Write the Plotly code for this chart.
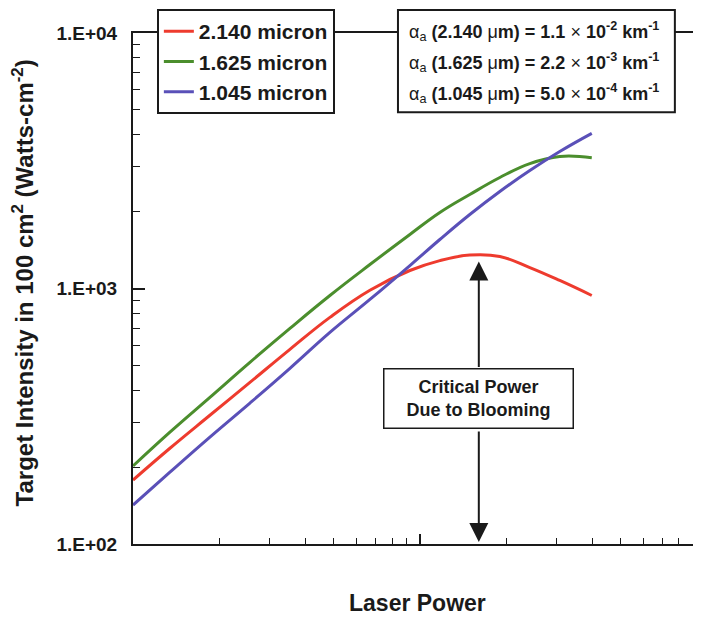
import math
import plotly.graph_objects as go

# ---- data ----
laser_power = [1.00, 1.345, 1.854, 2.556, 3.524, 4.857, 6.697, 9.230, 11.74, 14.93, 19.00, 24.17, 30.74, 39.74]
intensity_2140 = [178, 237, 319, 429, 578, 771, 985, 1176, 1286, 1351, 1334, 1208, 1075, 939]
intensity_1625 = [202, 274, 375, 514, 698, 939, 1241, 1627, 1984, 2333, 2719, 3083, 3286, 3250]
intensity_1045 = [142, 191, 262, 356, 487, 673, 906, 1230, 1555, 1948, 2397, 2896, 3436, 4046]
series_names = ["2.140 micron", "1.625 micron", "1.045 micron"]
series_colors = ["#EE3B2E", "#4B8E2D", "#5A50B8"]
critical_power = 16.05
critical_tip_intensity = 1275
y_major_ticks = [100, 1000, 10000]
y_major_labels = ["1.E+02", "1.E+03", "1.E+04"]
alpha_lines = [
    "α<sub>a</sub><b> (2.140 </b>μ<b>m) = 1.1 </b>×<b> 10<sup>-2</sup> km<sup>-1</sup></b>",
    "α<sub>a</sub><b> (1.625 </b>μ<b>m) = 2.2 </b>×<b> 10<sup>-3</sup> km<sup>-1</sup></b>",
    "α<sub>a</sub><b> (1.045 </b>μ<b>m) = 5.0 </b>×<b> 10<sup>-4</sup> km<sup>-1</sup></b>",
]

FONT = "Liberation Sans, Arial, sans-serif"
INK = "#1a1a1a"

fig = go.Figure()
for name, ys, col in zip(series_names, [intensity_2140, intensity_1625, intensity_1045], series_colors):
    fig.add_trace(go.Scatter(
        x=laser_power, y=ys, mode="lines", name=name, legendgroup=name,
        line=dict(color=col, width=3, shape="spline", smoothing=1.2),
    ))

y_minor = [m * 10 ** d for d in (2, 3) for m in range(2, 10)]
x_minor = [m * 10 ** d for d in (0, 1) for m in range(2, 10)]

# the page body adds an 8px offset, so the figure is 8px smaller and margins shifted
fig.update_layout(
    width=693, height=609,
    margin=dict(l=125, r=0, t=25, b=73, autoexpand=False),
    paper_bgcolor="white", plot_bgcolor="white",
    font=dict(family=FONT, color=INK),
    showlegend=True,
    legend=dict(
        x=0.042, y=1.047, xanchor="left", yanchor="top",
        bgcolor="white", bordercolor=INK, borderwidth=2,
        font=dict(family=FONT, size=21, color=INK, weight="bold"),
        tracegroupgap=0, itemwidth=30,
    ),
    xaxis=dict(
        type="log", range=[0, math.log10(95.5)], automargin=False,
        showgrid=False, zeroline=False,
        showline=True, linecolor=INK, linewidth=2, mirror=True,
        ticks="inside", tickvals=[10, 100], ticklen=10, tickwidth=1.5, tickcolor=INK,
        showticklabels=False,
        minor=dict(tickvals=x_minor, ticks="inside", ticklen=6, tickwidth=1.2, tickcolor=INK),
    ),
    yaxis=dict(
        type="log", range=[2, 4], automargin=False,
        showgrid=False, zeroline=False,
        showline=True, linecolor=INK, linewidth=2,
        ticks="inside", tickvals=y_major_ticks, ticktext=y_major_labels,
        ticklen=12, tickwidth=1.5, tickcolor=INK,
        tickfont=dict(family=FONT, size=19, color=INK, weight="bold"),
        ticklabelstandoff=10,
        minor=dict(tickvals=y_minor, ticks="inside", ticklen=7, tickwidth=1.2, tickcolor=INK),
    ),
)

# alpha box
fig.add_shape(type="rect", xref="paper", yref="paper",
              x0=0.4665, x1=0.954, y0=0.845, y1=1.045,
              line=dict(color=INK, width=2), fillcolor="white", layer="above")
for i, t in enumerate(alpha_lines):
    fig.add_annotation(xref="paper", yref="paper", x=0.483, y=1.003 - i * 0.0605,
                       xanchor="left", yanchor="middle", showarrow=False, text=t,
                       font=dict(family=FONT, size=18, color=INK))

# critical power arrows and box
cx = math.log10(critical_power)
fig.add_annotation(xref="x", yref="y", x=cx, y=math.log10(critical_tip_intensity),
                   text="", showarrow=True, ax=0, ay=107,
                   arrowhead=2, arrowsize=1.9, arrowwidth=2, arrowcolor=INK)
fig.add_annotation(xref="x", yref="y", x=cx, y=math.log10(y_major_ticks[0]) + 0.008,
                   text="", showarrow=True, ax=0, ay=-112,
                   arrowhead=2, arrowsize=1.9, arrowwidth=2, arrowcolor=INK)
fig.add_annotation(xref="x", yref="paper", x=cx, y=0.284, xanchor="center", yanchor="middle",
                   showarrow=False,
                   text="<b>Critical Power<br>Due to Blooming</b>",
                   font=dict(family=FONT, size=18, color=INK),
                   bgcolor="white", bordercolor=INK, borderwidth=1.5,
                   width=184, height=54, borderpad=2)

# axis titles
fig.add_annotation(xref="paper", yref="paper", x=0.5, y=0, yshift=-59,
                   xanchor="center", yanchor="middle", showarrow=False,
                   text="<b>Laser Power</b>", font=dict(family=FONT, size=23, color=INK))
fig.add_annotation(xref="paper", yref="paper", x=0, xshift=-110, y=0.51,
                   xanchor="center", yanchor="middle", showarrow=False, textangle=-90,
                   text="<b>Target Intensity in 100 cm<sup>2</sup> (Watts-cm<sup>-2</sup>)</b>",
                   font=dict(family=FONT, size=24, color=INK))

fig.write_html("out.html")
